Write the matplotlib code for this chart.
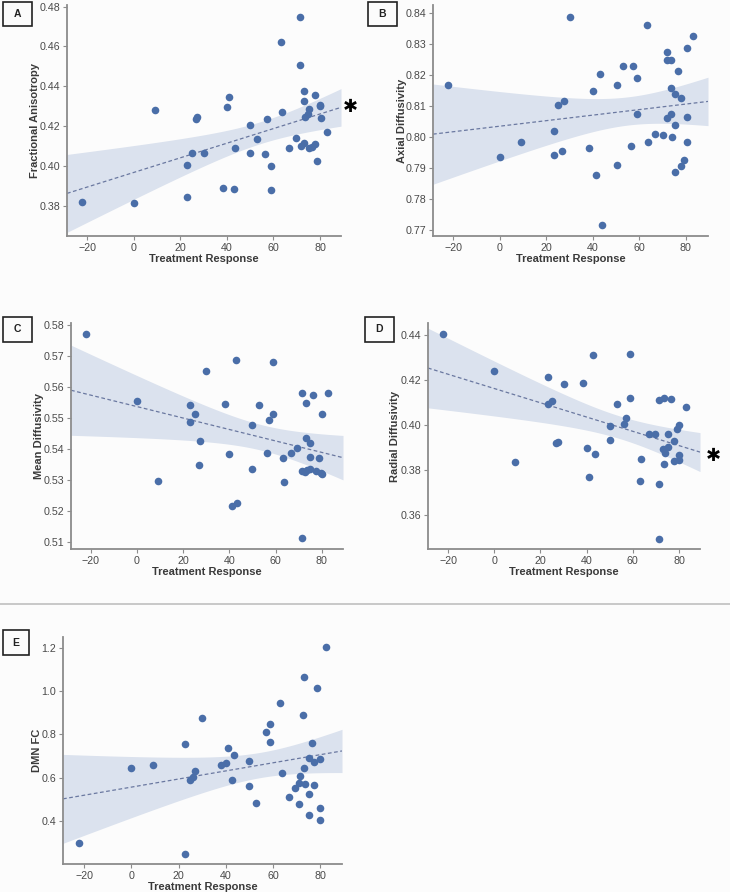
import numpy as np
import matplotlib
matplotlib.use("Agg")
import matplotlib.pyplot as plt
from matplotlib.patches import Rectangle
from matplotlib.lines import Line2D

plt.rcParams['font.family'] = ['Liberation Sans', 'DejaVu Sans']

# ---------------- data ----------------
fa_x = [71.5, 63.2, 71.5, 73.2, 73.0, 77.7, 80.1, 80.1, 75.1, 63.7, 9.0, 41.0, 39.9, 26.9, 27.3,
        57.1, 50.1, 52.8, 73.7, 74.8, 80.3, 82.8, 69.5, 66.8, 71.8, 73.2, 75.1, 76.4, 77.7, 43.6,
        25.0, 30.0, 50.1, 56.4, 23.0, 58.9, 78.8, -22.2, 0.0, 23.0, 38.5, 42.9, 58.9]
fa_y = [0.4747, 0.4621, 0.4508, 0.4379, 0.4329, 0.4356, 0.4309, 0.4300, 0.4287, 0.4274, 0.4284,
        0.4347, 0.4297, 0.4239, 0.4245, 0.4237, 0.4205, 0.4134, 0.4245, 0.4260, 0.4242, 0.4170,
        0.4139, 0.4093, 0.4103, 0.4115, 0.4093, 0.4098, 0.4110, 0.4093, 0.4065, 0.4067, 0.4065,
        0.4063, 0.4008, 0.4002, 0.4028, 0.3822, 0.3815, 0.3847, 0.3893, 0.3887, 0.3883]

ad_x = [-22.2, 0.0, 9.0, 23.2, 23.2, 25.1, 27.5, 26.8, 30.1, 38.4, 40.1, 43.0, 41.3, 50.2, 50.2,
        53.0, 57.3, 59.1, 59.1, 56.3, 63.4, 63.9, 66.8, 70.0, 71.7, 71.7, 73.4, 73.7, 75.3, 73.7,
        71.7, 75.3, 73.8, 76.7, 78.0, 80.3, 83.2, 80.3, 80.3, 79.1, 78.0, 75.3, 43.9]
ad_y = [0.8167, 0.7936, 0.7983, 0.8020, 0.7943, 0.8104, 0.8115, 0.7956, 0.8387, 0.7965, 0.8147,
        0.8203, 0.7877, 0.8167, 0.7910, 0.8229, 0.8230, 0.8190, 0.8074, 0.7971, 0.8361, 0.7982,
        0.8009, 0.8007, 0.8274, 0.8247, 0.8248, 0.8158, 0.8140, 0.8075, 0.8060, 0.8039, 0.8000,
        0.8213, 0.8125, 0.8287, 0.8327, 0.8063, 0.7983, 0.7925, 0.7906, 0.7888, 0.7717]

md_x = [-22.0, 0.0, 23.2, 25.1, 23.2, 30.0, 38.3, 42.9, 52.9, 50.0, 58.8, 58.8, 57.2, 71.5, 76.4,
        73.3, 82.7, 80.0, 73.1, 74.9, 69.5, 27.2, 26.7, 9.1, 39.9, 41.2, 43.4, 50.0, 56.1, 63.1,
        63.7, 66.6, 74.9, 78.8, 71.5, 72.8, 73.5, 74.9, 77.7, 79.8, 80.0, 71.5]
md_y = [0.5771, 0.5555, 0.5541, 0.5513, 0.5486, 0.5651, 0.5544, 0.5688, 0.5543, 0.5477, 0.5681,
        0.5513, 0.5495, 0.5580, 0.5573, 0.5547, 0.5582, 0.5513, 0.5437, 0.5420, 0.5402, 0.5426,
        0.5347, 0.5296, 0.5384, 0.5217, 0.5225, 0.5335, 0.5388, 0.5372, 0.5294, 0.5388, 0.5375,
        0.5370, 0.5329, 0.5327, 0.5332, 0.5335, 0.5329, 0.5324, 0.5319, 0.5111]

rd_x = [-22.3, 0.0, 23.1, 23.2, 25.1, 30.1, 38.5, 42.9, 58.9, 58.9, 53.0, 50.1, 57.2, 56.3, 71.5,
        73.5, 76.5, 82.9, 66.9, 69.7, 75.2, 80.1, 79.0, 26.7, 27.4, 50.1, 40.1, 43.5, 9.1, 41.2,
        63.7, 63.3, 71.5, 73.5, 73.2, 73.9, 75.2, 77.8, 77.7, 80.1, 80.1, 71.5]
rd_y = [0.4407, 0.4241, 0.4214, 0.4094, 0.4109, 0.4183, 0.4187, 0.4312, 0.4317, 0.4120, 0.4095,
        0.3994, 0.4030, 0.4006, 0.4112, 0.4120, 0.4116, 0.4082, 0.3958, 0.3958, 0.3961, 0.4000,
        0.3981, 0.3921, 0.3926, 0.3935, 0.3898, 0.3871, 0.3834, 0.3770, 0.3849, 0.3751, 0.3736,
        0.3825, 0.3892, 0.3877, 0.3904, 0.3927, 0.3839, 0.3865, 0.3843, 0.3492]

fc_x = [82.5, 73.1, 78.9, 63.0, 72.9, 29.8, 58.8, 57.0, 58.8, 76.5, 22.9, 41.1, 0.0, 9.0, 24.9,
        26.3, 27.1, 38.2, 40.0, 43.5, 42.8, 50.0, 50.0, 52.9, 63.7, 66.7, 69.4, 71.4, 71.2, 71.2,
        73.2, 73.6, 75.1, 75.1, 77.5, 77.5, 80.0, 80.0, 75.1, 80.0, -22.3, 22.9]
fc_y = [1.203, 1.064, 1.015, 0.944, 0.890, 0.878, 0.849, 0.809, 0.766, 0.759, 0.754, 0.737, 0.646,
        0.660, 0.592, 0.605, 0.632, 0.660, 0.667, 0.705, 0.589, 0.678, 0.562, 0.485, 0.623, 0.510,
        0.551, 0.609, 0.574, 0.481, 0.644, 0.571, 0.524, 0.690, 0.672, 0.569, 0.685, 0.463, 0.429,
        0.406, 0.301, 0.249]

ylabels = ["Fractional Anisotropy", "Axial Diffusivity", "Mean Diffusivity",
           "Radial Diffusivity", "DMN FC"]
panel_letters = ["A", "B", "C", "D", "E"]
xlabel = "Treatment Response"
xticks = [-20, 0, 20, 40, 60, 80]
yticks_list = [[0.38, 0.40, 0.42, 0.44, 0.46, 0.48],
               [0.77, 0.78, 0.79, 0.80, 0.81, 0.82, 0.83, 0.84],
               [0.51, 0.52, 0.53, 0.54, 0.55, 0.56, 0.57, 0.58],
               [0.36, 0.38, 0.40, 0.42, 0.44],
               [0.4, 0.6, 0.8, 1.0, 1.2]]
ytick_fmt = ["{:.2f}", "{:.2f}", "{:.2f}", "{:.2f}", "{:.1f}"]

# ---------------- layout ----------------
W, H = 730, 892
BG = '#fcfcfc'
fig = plt.figure(figsize=(W / 100, H / 100), dpi=100, facecolor=BG)

def px_rect(l, r, t, b):
    return [l / W, 1 - b / H, (r - l) / W, (b - t) / H]

rects = [px_rect(67, 341, 5, 236), px_rect(433, 708, 5, 236),
         px_rect(71, 343, 323, 549), px_rect(428, 700, 323, 549),
         px_rect(63, 342, 637, 864)]
xlims = [(-28.6, 89.0), (-28.8, 89.5), (-28.5, 89.2), (-28.7, 89.1), (-29.0, 89.3)]
ylims = [(0.365, 0.4808), (0.768, 0.8426), (0.5077, 0.5807), (0.3447, 0.4455), (0.203, 1.249)]
ylabel_x_px = [35, 402, 39, 395, 37]

datasets = [(fa_x, fa_y), (ad_x, ad_y), (md_x, md_y), (rd_x, rd_y), (fc_x, fc_y)]

PT = '#4a6ea8'
BAND = '#dbe2ee'
LINE = '#6a78a0'
SP = '#8c8c8c'

for i, ((xs, ys), rect) in enumerate(zip(datasets, rects)):
    ax = fig.add_axes(rect)
    ax.set_facecolor(BG)
    x = np.asarray(xs, float)
    y = np.asarray(ys, float)
    n = len(x)
    b, a = np.polyfit(x, y, 1)
    xg = np.linspace(xlims[i][0], xlims[i][1], 200)
    yg = a + b * xg
    resid = y - (a + b * x)
    s = np.sqrt(np.sum(resid ** 2) / (n - 2))
    sxx = np.sum((x - x.mean()) ** 2)
    se = s * np.sqrt(1.0 / n + (xg - x.mean()) ** 2 / sxx)
    t = 2.02
    ax.fill_between(xg, yg - t * se, yg + t * se, color=BAND, lw=0, zorder=1)
    ax.plot(xg, yg, ls=(0, (3, 2)), color=LINE, lw=0.9, zorder=2)
    ax.scatter(x, y, s=30, color=PT, lw=0, zorder=3)
    ax.set_xlim(*xlims[i])
    ax.set_ylim(*ylims[i])
    ax.set_xticks(xticks)
    ax.set_xticklabels([str(v).replace('-', '\u2212') for v in xticks])
    yt = yticks_list[i]
    ax.set_yticks(yt)
    ax.set_yticklabels([ytick_fmt[i].format(v) for v in yt])
    for sp in ['top', 'right']:
        ax.spines[sp].set_visible(False)
    for sp in ['left', 'bottom']:
        ax.spines[sp].set_color(SP)
        ax.spines[sp].set_linewidth(1.3)
    ax.tick_params(axis='both', colors=SP, labelcolor='#4a4a4a', labelsize=7.7,
                   length=3, width=0.8, pad=2)
    ax.set_xlabel(xlabel, fontsize=8, fontweight='bold', color='#3a3a3a', labelpad=1)
    ax.set_ylabel(ylabels[i], fontsize=8, fontweight='bold', color='#3a3a3a',
                  va='center')
    lx = (ylabel_x_px[i] / W - rect[0]) / rect[2]
    ax.yaxis.set_label_coords(lx, 0.5)

# panel label boxes
boxes = [(3, 32, 2, 26), (368, 397, 2, 26), (3, 32, 317, 342), (365, 394, 317, 342), (3, 29, 630, 655)]
for letter, (l, r, t, bt) in zip(panel_letters, boxes):
    fig.add_artist(Rectangle((l / W, 1 - bt / H), (r - l) / W, (bt - t) / H,
                             transform=fig.transFigure, fill=False, ec='#222222', lw=1.2))
    fig.text((l + r) / 2 / W, 1 - (t + bt) / 2 / H, letter, ha='center', va='center',
             fontsize=7.5, fontweight='bold', color='#222222')

# separator line
fig.add_artist(Line2D([0, 1], [1 - 604 / H, 1 - 604 / H], transform=fig.transFigure,
                      color='#c4c4c4', lw=1.3))

# significance asterisks
for (ax_px, ay_px) in [(350, 107), (713, 456)]:
    fig.text(ax_px / W, 1 - ay_px / H, "\u2731", ha='center', va='center', fontsize=13,
             color='black', family='DejaVu Sans')

fig.savefig("out.png", dpi=100, facecolor=BG)
